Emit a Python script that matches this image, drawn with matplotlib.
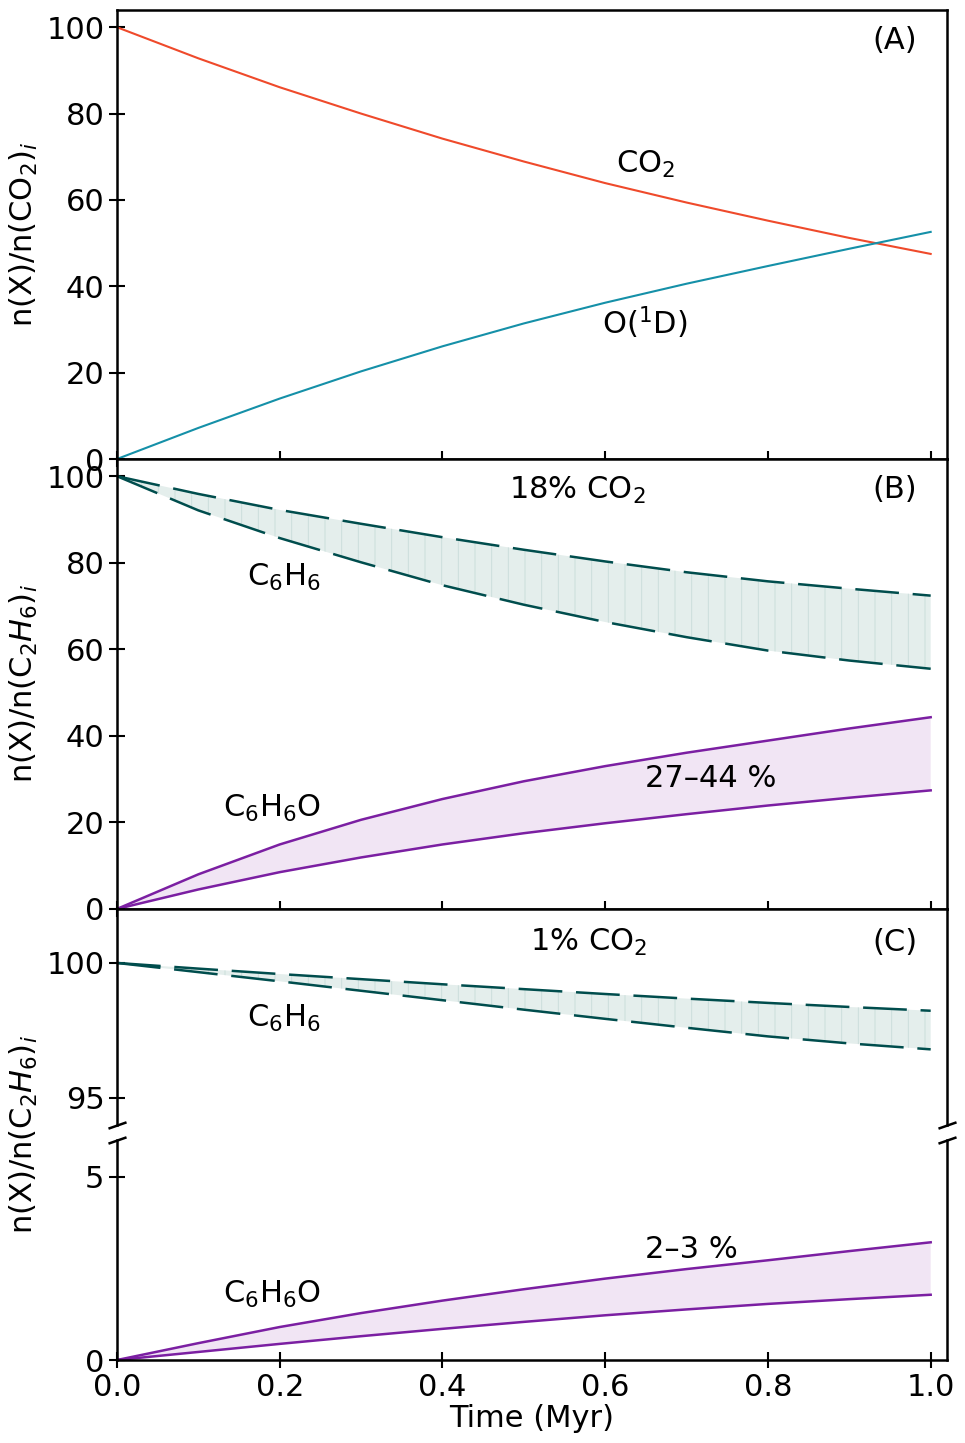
import numpy as np
import matplotlib
matplotlib.use("Agg")
import matplotlib.pyplot as plt

# ---------------- data ----------------
time_myr = [0.0, 0.1, 0.2, 0.3, 0.4, 0.5, 0.6, 0.7, 0.8, 0.9, 1.0]

# Panel A
co2 = [100.0, 92.8, 86.1, 80.0, 74.2, 68.9, 63.9, 59.4, 55.2, 51.2, 47.5]
o1d = [0.0, 7.2, 14.0, 20.3, 26.1, 31.4, 36.2, 40.6, 44.7, 48.7, 52.6]

# Panel B (18% CO2)
b_c6h6_hi = [100.0, 95.9, 92.2, 89.0, 85.9, 83.0, 80.3, 77.8, 75.7, 74.0, 72.4]
b_c6h6_lo = [100.0, 92.1, 85.7, 80.1, 74.8, 70.3, 66.3, 62.8, 59.7, 57.4, 55.5]
b_c6h6o_hi = [0.0, 8.0, 14.9, 20.6, 25.4, 29.5, 33.0, 36.1, 38.9, 41.7, 44.3]
b_c6h6o_lo = [0.0, 4.5, 8.5, 11.9, 14.9, 17.5, 19.8, 21.9, 23.9, 25.7, 27.4]

# Panel C (1% CO2)
c_c6h6_hi = [100.0, 99.79, 99.59, 99.40, 99.21, 99.03, 98.85, 98.68, 98.52, 98.37, 98.23]
c_c6h6_lo = [100.0, 99.66, 99.32, 98.97, 98.62, 98.27, 97.93, 97.60, 97.28, 97.02, 96.80]
c_c6h6o_hi = [0.0, 0.46, 0.90, 1.28, 1.62, 1.93, 2.22, 2.48, 2.72, 2.97, 3.21]
c_c6h6o_lo = [0.0, 0.22, 0.44, 0.65, 0.85, 1.04, 1.22, 1.38, 1.53, 1.66, 1.78]

xticks = [0.0, 0.2, 0.4, 0.6, 0.8, 1.0]
xticklabels = ["0.0", "0.2", "0.4", "0.6", "0.8", "1.0"]

# ---------------- style ----------------
FS = 22
plt.rcParams['font.family'] = ['DejaVu Sans']
plt.rcParams['font.size'] = FS
plt.rcParams['hatch.linewidth'] = 0.7

RED = "#ef4a2b"
CYAN = "#1590a8"
TEAL = "#004d4d"
PURPLE = "#7b1fa2"
TEAL_FILL = "#e4eeec"
TEAL_HATCH = "#cbdedb"
PURPLE_FILL = "#f1e5f4"

DASH = (0, (17.5, 5.5))
LW = 1.8

fig = plt.figure(figsize=(9.65, 14.43), dpi=100)
L, W = 0.1212, 0.8601
axA = fig.add_axes([L, 0.6819, W, 0.3112])
axB = fig.add_axes([L, 0.3701, W, 0.3119])
axC1 = fig.add_axes([L, 0.2204, W, 0.1497])
axC2 = fig.add_axes([L, 0.0575, W, 0.1525])

t = np.array(time_myr)

def style(ax):
    for s in ax.spines.values():
        s.set_linewidth(1.8)
    ax.tick_params(direction='inout', length=11, width=1.5, labelsize=FS)
    ax.set_xlim(0, 1.02)
    ax.set_xticks(xticks)

# Panel A
axA.plot(t, co2, color=RED, lw=1.5)
axA.plot(t, o1d, color=CYAN, lw=1.5)
axA.set_ylim(0, 104)
axA.set_yticks([0, 20, 40, 60, 80, 100])
style(axA)
axA.set_xticklabels([])
axA.text(0.956, 97.0, "(A)", ha='center', va='center')
axA.text(0.649, 68.2, "CO$_2$", ha='center', va='center')
axA.text(0.649, 31.5, "O($^1$D)", ha='center', va='center')
axA.set_ylabel("n(X)/n(CO$_2$)$_i$")

# Panel B
axB.fill_between(t, b_c6h6_lo, b_c6h6_hi, facecolor=TEAL_FILL, edgecolor=TEAL_HATCH,
                 hatch='|', linewidth=0)
axB.plot(t, b_c6h6_hi, color=TEAL, lw=LW, linestyle=DASH)
axB.plot(t, b_c6h6_lo, color=TEAL, lw=LW, linestyle=DASH)
axB.fill_between(t, b_c6h6o_lo, b_c6h6o_hi, facecolor=PURPLE_FILL, linewidth=0)
axB.plot(t, b_c6h6o_hi, color=PURPLE, lw=LW)
axB.plot(t, b_c6h6o_lo, color=PURPLE, lw=LW)
axB.set_ylim(0, 104)
axB.set_yticks([0, 20, 40, 60, 80, 100])
style(axB)
axB.set_xticklabels([])
axB.text(0.956, 97.0, "(B)", ha='center', va='center')
axB.text(0.566, 96.8, "18% CO$_2$", ha='center', va='center')
axB.text(0.205, 76.7, "C$_6$H$_6$", ha='center', va='center')
axB.text(0.190, 23.2, "C$_6$H$_6$O", ha='center', va='center')
axB.text(0.730, 30.1, "27–44 %", ha='center', va='center')
axB.set_ylabel("n(X)/n(C$_2H_6$)$_i$")

# Panel C top
axC1.fill_between(t, c_c6h6_lo, c_c6h6_hi, facecolor=TEAL_FILL, edgecolor=TEAL_HATCH,
                  hatch='|', linewidth=0)
axC1.plot(t, c_c6h6_hi, color=TEAL, lw=LW, linestyle=DASH)
axC1.plot(t, c_c6h6_lo, color=TEAL, lw=LW, linestyle=DASH)
axC1.set_ylim(94, 102)
axC1.set_yticks([95, 100])
style(axC1)
axC1.spines['bottom'].set_visible(False)
axC1.tick_params(axis='x', bottom=False)
axC1.set_xticklabels([])
axC1.text(0.956, 100.75, "(C)", ha='center', va='center')
axC1.text(0.579, 100.75, "1% CO$_2$", ha='center', va='center')
axC1.text(0.205, 97.95, "C$_6$H$_6$", ha='center', va='center')

# Panel C bottom
axC2.fill_between(t, c_c6h6o_lo, c_c6h6o_hi, facecolor=PURPLE_FILL, linewidth=0)
axC2.plot(t, c_c6h6o_hi, color=PURPLE, lw=LW)
axC2.plot(t, c_c6h6o_lo, color=PURPLE, lw=LW)
axC2.set_ylim(0, 6)
axC2.set_yticks([0, 5])
style(axC2)
axC2.spines['top'].set_visible(False)
axC2.tick_params(axis='x', top=False)
axC2.set_xticklabels(xticklabels)
axC2.text(0.190, 1.80, "C$_6$H$_6$O", ha='center', va='center')
axC2.text(0.706, 3.0, "2–3 %", ha='center', va='center')
axC2.set_xlabel("Time (Myr)", labelpad=2)

# break marks
kw = dict(marker=[(-1, -0.35), (1, 0.35)], markersize=13, linestyle='none',
          color='k', mec='k', mew=1.8, clip_on=False)
axC1.plot([0, 1], [0, 0], transform=axC1.transAxes, **kw)
axC2.plot([0, 1], [1, 1], transform=axC2.transAxes, **kw)

# y labels aligned
for ax in (axA, axB):
    ax.yaxis.set_label_coords(-0.093, 0.5)
fig.text(L - 0.093 * W, 1 - 1134.5 / 1443, "n(X)/n(C$_2H_6$)$_i$", rotation=90,
         ha='right', va='center', fontsize=FS)

fig.savefig("out.png", dpi=100)
